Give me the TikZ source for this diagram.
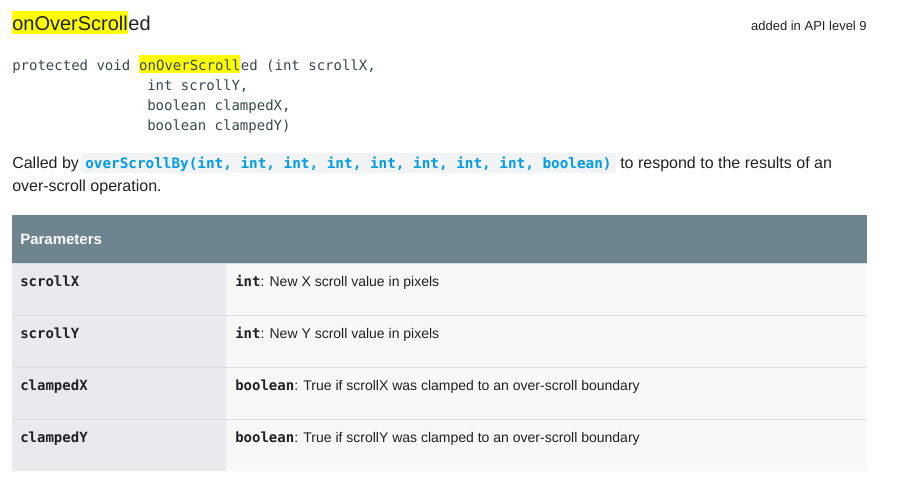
\documentclass[tikz,border=0pt]{standalone}
\usepackage{fontspec}
\setmainfont{Liberation Sans}
\setmonofont{DejaVu Sans Mono}
\usepackage{xcolor}

\definecolor{bodytext}{RGB}{32,33,36}
\definecolor{codetext}{RGB}{55,71,79}
\definecolor{hilite}{RGB}{255,255,0}
\definecolor{refblue}{RGB}{3,155,229}
\definecolor{codebg}{RGB}{241,243,244}
\definecolor{headbg}{RGB}{110,133,143}
\definecolor{keybg}{RGB}{232,234,237}
\definecolor{valbg}{RGB}{247,248,248}
\definecolor{rowrule}{RGB}{218,220,224}

\tikzset{
  txt/.style={anchor=base west, inner sep=0pt, text=bodytext, font=\fontsize{12}{14}\selectfont},
  code/.style={anchor=base west, inner sep=0pt, text=codetext, font=\ttfamily\fontsize{10.5}{12}\selectfont},
  keytxt/.style={anchor=base west, inner sep=0pt, text=bodytext, font=\ttfamily\bfseries\fontsize{10.5}{12}\selectfont},
  valtxt/.style={anchor=base west, inner sep=0pt, text=bodytext, font=\fontsize{10.5}{12}\selectfont},
}

\begin{document}
\begin{tikzpicture}[x=0.75pt,y=0.75pt,yscale=-1,xscale=1]
\useasboundingbox (0,0) rectangle (902,493);

% Title
    \node (titlehl) [txt, fill=hilite, text height=14.25pt, text depth=3pt, font=\fontsize{15}{18}\selectfont] at (12,30) {onOverScroll};
    \node (titlerest) [txt, font=\fontsize{15}{18}\selectfont] at (titlehl.base east) {ed};
% Text Node
    \node (apilevel) [txt, anchor=base east, font=\fontsize{9.75}{12}\selectfont] at (867,30) {added in API level 9};

% Signature
    \node (sigpre) [code] at (12,70) {protected void\hphantom{x}};
    \node (sighl) [code, fill=hilite, text height=11.25pt, text depth=2pt] at (sigpre.base east) {onOverScroll};
    \node (sigrest) [code] at (sighl.base east) {ed (int scrollX,};
    \node (sigline2) [code] at (147,90) {int scrollY,};
    \node (sigline3) [code] at (147,110) {boolean clampedX,};
    \node (sigline4) [code] at (147,130) {boolean clampedY)};

% Description
    \node (calledby) [txt] at (12,168) {Called by};
    \node (callref) [anchor=base west, inner xsep=3pt, inner ysep=0pt, fill=codebg, text=refblue, text height=11.25pt, text depth=3.75pt, font=\ttfamily\bfseries\fontsize{10.75}{12}\selectfont] at (81,168) {overScrollBy(int, int, int, int, int, int, int, int, boolean)};
    \node (respond) [txt] at (620,168) {to respond to the results of an};
    \node (operation) [txt] at (12,191) {over-scroll operation.};

%Table
    \fill [headbg] (12,215) rectangle (867,263);
    \fill [keybg] (12,263) rectangle (226,471);
    \fill [valbg] (226,263) rectangle (867,471);
    \draw [rowrule, line width=0.75pt] (12,263) -- (867,263);
    \draw [rowrule, line width=0.75pt] (12,315) -- (867,315);
    \draw [rowrule, line width=0.75pt] (12,367) -- (867,367);
    \draw [rowrule, line width=0.75pt] (12,419) -- (867,419);

% Text Node
    \node (params) [txt, text=white, font=\bfseries\fontsize{11.25}{14}\selectfont] at (20,244) {Parameters};

    \node (keyx) [keytxt] at (20,286) {scrollX};
    \node (valx) [valtxt] at (235,286) {\texttt{\bfseries int}: New X scroll value in pixels};
    \node (keyy) [keytxt] at (20,338) {scrollY};
    \node (valy) [valtxt] at (235,338) {\texttt{\bfseries int}: New Y scroll value in pixels};
    \node (keycx) [keytxt] at (20,390) {clampedX};
    \node (valcx) [valtxt] at (235,390) {\texttt{\bfseries boolean}: True if scrollX was clamped to an over-scroll boundary};
    \node (keycy) [keytxt] at (20,442) {clampedY};
    \node (valcy) [valtxt] at (235,442) {\texttt{\bfseries boolean}: True if scrollY was clamped to an over-scroll boundary};

\end{tikzpicture}
\end{document}
